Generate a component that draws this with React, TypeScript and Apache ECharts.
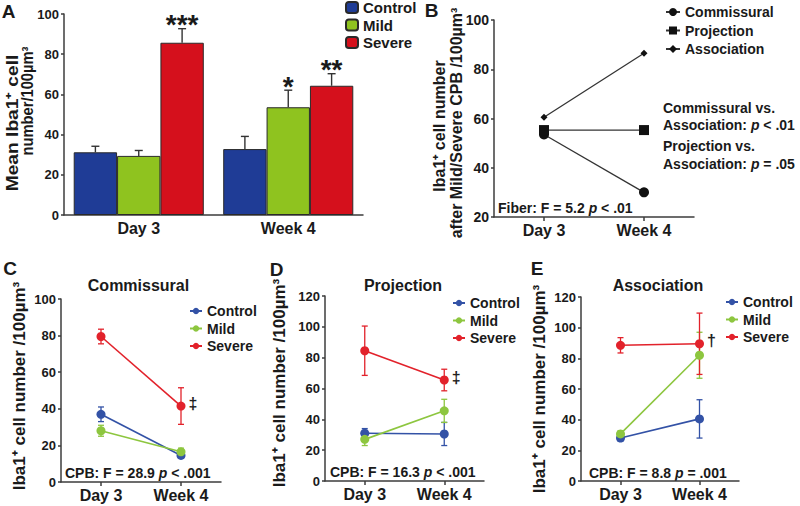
import React, { useEffect, useRef } from "react";
import * as echarts from "echarts";

const FONT = '"Liberation Sans", Arial, Helvetica, sans-serif';

const days = ["Day 3", "Week 4"];
const groups = ["Control", "Mild", "Severe"];
const fibers = ["Commissural", "Projection", "Association"];

// Panel A: mean Iba1+ cells (bars) with SEM
const aControl = [31.2, 32.8];
const aMild = [29.4, 53.6];
const aSevere = [85.7, 64.3];
const aControlErr = [3.0, 6.3];
const aMildErr = [2.7, 8.5];
const aSevereErr = [7.0, 6.0];
const aControlSig = ["", ""];
const aMildSig = ["", "*"];
const aSevereSig = ["***", "**"];

// Panel B: after Mild/Severe CPB by fiber type
const bCommissural = [53.5, 30.0];
const bProjection = [55.3, 55.3];
const bAssociation = [60.5, 86.5];

// Panel C: Commissural
const cControl = [37.0, 14.5];
const cMild = [28.0, 16.5];
const cSevere = [79.5, 41.5];
const cControlErr = [4.0, 1.5];
const cMildErr = [3.0, 2.0];
const cSevereErr = [4.0, 10.0];
const cMark = ["", "‡"];

// Panel D: Projection
const dControl = [31.0, 30.5];
const dMild = [27.0, 45.5];
const dSevere = [84.5, 65.5];
const dControlErr = [3.0, 7.5];
const dMildErr = [4.0, 7.5];
const dSevereErr = [16.0, 7.0];
const dMark = ["", "‡"];

// Panel E: Association
const eControl = [28.0, 40.5];
const eMild = [30.7, 82.0];
const eSevere = [88.5, 89.5];
const eControlErr = [2.0, 12.5];
const eMildErr = [2.0, 15.0];
const eSevereErr = [5.0, 20.0];
const eMark = ["", "†"];

const barColors = ["#1f3c96", "#8fc31f", "#d5101c"];
const lineColors = ["#3352a6", "#8dc63f", "#e2222b"];
const INK = "#1a1a1a";
const AXIS = "#3c3c3c";

export default function App() {
  const ref = useRef<HTMLDivElement>(null);

  useEffect(() => {
    document.body.style.margin = "0";
    const chart = echarts.init(ref.current!, null, { renderer: "svg" });

    const grids = [
      { left: 64, top: 14, width: 299, height: 201 },
      { left: 494, top: 20, width: 200, height: 197 },
      { left: 61, top: 299, width: 160, height: 183 },
      { left: 325, top: 296, width: 159, height: 185 },
      { left: 581, top: 297, width: 158, height: 184 },
    ];
    const yRanges = [
      [0, 100],
      [20, 100],
      [0, 100],
      [0, 120],
      [0, 120],
    ];

    const xAxis = grids.map((_, i) => ({
      type: "category",
      gridIndex: i,
      data: days,
      boundaryGap: true,
      axisLine: { lineStyle: { color: AXIS, width: 1.5 } },
      axisTick: {
        show: i > 0,
        alignWithLabel: true,
        length: 4,
        lineStyle: { color: AXIS, width: 1.5 },
      },
      axisLabel: {
        fontSize: 16,
        fontWeight: "bold",
        color: INK,
        fontFamily: FONT,
        margin: 5,
      },
    }));

    const yAxis = grids.map((_, i) => ({
      type: "value",
      gridIndex: i,
      min: yRanges[i][0],
      max: yRanges[i][1],
      interval: 20,
      axisLine: { show: true, lineStyle: { color: AXIS, width: 1.5 } },
      axisTick: { show: true, length: 3, lineStyle: { color: AXIS, width: 1.5 } },
      splitLine: { show: false },
      axisLabel: {
        fontSize: i === 1 ? 14 : 13,
        fontWeight: "bold",
        color: INK,
        fontFamily: FONT,
        margin: 5,
      },
    }));

    const aMeans = [aControl, aMild, aSevere];
    const aErrs = [aControlErr, aMildErr, aSevereErr];
    const aSigs = [aControlSig, aMildSig, aSevereSig];
    const CAT_GAP = 0.13;

    const series: any[] = [];

    groups.forEach((g, gi) => {
      series.push({
        type: "bar",
        name: g,
        xAxisIndex: 0,
        yAxisIndex: 0,
        data: aMeans[gi],
        barGap: "0%",
        barCategoryGap: CAT_GAP * 100 + "%",
        itemStyle: { color: barColors[gi], borderColor: "#2a2a2a", borderWidth: 1 },
        emphasis: { disabled: true },
      });
    });

    const aErrData: number[][] = [];
    groups.forEach((_, gi) => {
      days.forEach((_, di) => {
        aErrData.push([di, aMeans[gi][di], aErrs[gi][di], gi]);
      });
    });
    series.push({
      type: "custom",
      name: "A-err",
      xAxisIndex: 0,
      yAxisIndex: 0,
      z: 3,
      data: aErrData,
      renderItem: (params: any, api: any) => {
        const xi = api.value(0);
        const m = api.value(1);
        const e = api.value(2);
        const g = api.value(3);
        const p0 = api.coord([xi, m]);
        const p1 = api.coord([xi, m + e]);
        const band = api.size([1, 0])[0];
        const w = (band * (1 - CAT_GAP)) / 3;
        const cx = p0[0] + (g - 1) * w;
        const cap = 4;
        const st = { stroke: "#333", lineWidth: 1.4 };
        return {
          type: "group",
          children: [
            { type: "line", shape: { x1: cx, y1: p0[1], x2: cx, y2: p1[1] }, style: st },
            { type: "line", shape: { x1: cx - cap, y1: p1[1], x2: cx + cap, y2: p1[1] }, style: st },
            {
              type: "text",
              x: cx,
              y: p1[1] - 4,
              style: {
                text: aSigs[g][xi],
                fill: INK,
                font: `bold 28px ${FONT}`,
                align: "center",
                verticalAlign: "middle",
                textAlign: "center",
                textVerticalAlign: "middle",
              },
            },
          ],
        };
      },
    });

    // Panel B
    const bData = [bCommissural, bProjection, bAssociation];
    const bSymbols = ["circle", "rect", "diamond"];
    const bSizes = [10, 10, 7];
    fibers.forEach((f, fi) => {
      series.push({
        type: "line",
        name: f,
        xAxisIndex: 1,
        yAxisIndex: 1,
        data: bData[fi],
        symbol: bSymbols[fi],
        symbolSize: bSizes[fi],
        itemStyle: { color: "#111" },
        lineStyle: { color: "#333", width: 1.3 },
        emphasis: { disabled: true },
      });
    });

    // Panels C, D, E
    const panels = [
      { p: "C", idx: 2, means: [cControl, cMild, cSevere], errs: [cControlErr, cMildErr, cSevereErr], mark: cMark },
      { p: "D", idx: 3, means: [dControl, dMild, dSevere], errs: [dControlErr, dMildErr, dSevereErr], mark: dMark },
      { p: "E", idx: 4, means: [eControl, eMild, eSevere], errs: [eControlErr, eMildErr, eSevereErr], mark: eMark },
    ];

    panels.forEach((pn) => {
      const errData: number[][] = [];
      groups.forEach((_, gi) => {
        days.forEach((_, di) => {
          errData.push([di, pn.means[gi][di], pn.errs[gi][di], gi]);
        });
      });
      series.push({
        type: "custom",
        name: pn.p + "-err",
        xAxisIndex: pn.idx,
        yAxisIndex: pn.idx,
        z: 1,
        data: errData,
        renderItem: (params: any, api: any) => {
          const xi = api.value(0);
          const m = api.value(1);
          const e = api.value(2);
          const g = api.value(3);
          const lo = api.coord([xi, m - e]);
          const hi = api.coord([xi, m + e]);
          const cx = lo[0];
          const cap = 3;
          const st = { stroke: lineColors[g], lineWidth: 1.3 };
          return {
            type: "group",
            children: [
              { type: "line", shape: { x1: cx, y1: lo[1], x2: cx, y2: hi[1] }, style: st },
              { type: "line", shape: { x1: cx - cap, y1: lo[1], x2: cx + cap, y2: lo[1] }, style: st },
              { type: "line", shape: { x1: cx - cap, y1: hi[1], x2: cx + cap, y2: hi[1] }, style: st },
            ],
          };
        },
      });
      groups.forEach((g, gi) => {
        const s: any = {
          type: "line",
          name: pn.p + "|" + g,
          xAxisIndex: pn.idx,
          yAxisIndex: pn.idx,
          z: 3,
          data: pn.means[gi],
          symbol: "circle",
          symbolSize: 9,
          itemStyle: { color: lineColors[gi] },
          lineStyle: { color: lineColors[gi], width: 1.6 },
          emphasis: { disabled: true },
        };
        if (gi === 2) {
          s.label = {
            show: true,
            position: "right",
            distance: 3,
            offset: [0, -3],
            formatter: (p: any) => pn.mark[p.dataIndex],
            fontSize: 16,
            fontWeight: "bold",
            color: "#222",
            fontFamily: FONT,
          };
        }
        series.push(s);
      });
    });

    const legendText = { fontSize: 14, fontWeight: "bold", color: INK, fontFamily: FONT, lineHeight: 14 };
    const legend = [
      {
        orient: "vertical",
        left: 345,
        top: 0,
        padding: 0,
        itemWidth: 12,
        itemHeight: 11,
        itemGap: 2.5,
        selectedMode: false,
        data: groups,
        textStyle: { ...legendText, fontSize: 15, lineHeight: 15 },
      },
      {
        orient: "vertical",
        left: 665,
        top: 5,
        padding: 0,
        itemWidth: 14,
        itemHeight: 10,
        itemGap: 4.5,
        selectedMode: false,
        data: fibers,
        textStyle: legendText,
      },
      ...[
        { p: "C", left: 189, top: 304 },
        { p: "D", left: 452, top: 296 },
        { p: "E", left: 725, top: 295 },
      ].map((l) => ({
        orient: "vertical",
        left: l.left,
        top: l.top,
        padding: 0,
        itemWidth: 12,
        itemHeight: 8,
        itemGap: 3.5,
        selectedMode: false,
        data: groups.map((g) => l.p + "|" + g),
        formatter: (name: string) => name.split("|")[1],
        textStyle: legendText,
      })),
    ];

    const txt = (text: string, x: number, y: number, size: number, extra: any = {}) => ({
      type: "text",
      x,
      y,
      silent: true,
      ...extra,
      style: {
        text,
        fill: INK,
        font: `bold ${size}px ${FONT}`,
        align: extra.align || "center",
        verticalAlign: "middle",
        textAlign: extra.align || "center",
        textVerticalAlign: "middle",
      },
    });
    const richTxt = (text: string, x: number, y: number, size: number) => ({
      type: "text",
      x,
      y,
      silent: true,
      style: {
        text,
        fill: INK,
        font: `bold ${size}px ${FONT}`,
        align: "left",
        verticalAlign: "middle",
        textAlign: "left",
        textVerticalAlign: "middle",
        rich: {
          n: { fontSize: size, fontWeight: "bold", fontFamily: FONT, fill: INK },
          i: { fontSize: size, fontWeight: "bold", fontStyle: "italic", fontFamily: FONT, fill: INK },
        },
      },
    });
    const vTxt = (text: string, x: number, y: number, size: number, sx = 1) => ({
      type: "text",
      x,
      y,
      rotation: Math.PI / 2,
      scaleX: sx,
      silent: true,
      style: {
        text,
        fill: INK,
        font: `bold ${size}px ${FONT}`,
        align: "center",
        verticalAlign: "middle",
        textAlign: "center",
        textVerticalAlign: "middle",
      },
    });

    const graphic = [
      // panel letters
      txt("A", 8.5, 11, 19),
      txt("B", 431.5, 10, 19),
      txt("C", 10, 268, 19),
      txt("D", 276.5, 269, 19),
      txt("E", 537, 268, 19),
      // y axis names
      vTxt("Mean Iba1⁺ cell", 13, 123, 16, 1.2),
      vTxt("number/100µm³", 27, 101, 16, 0.92),
      vTxt("Iba1⁺ cell number", 439, 126, 16),
      vTxt("after Mild/Severe CPB /100µm³", 456.5, 123, 16),
      vTxt("Iba1⁺ cell number /100µm³", 19.5, 386, 17),
      vTxt("Iba1⁺ cell number /100µm³", 279, 383, 17),
      vTxt("Iba1⁺ cell number /100µm³", 539.5, 389, 17),
      // panel titles
      txt("Commissural", 138.5, 285, 16),
      txt("Projection", 403, 285, 16),
      txt("Association", 658, 285, 16),
      // annotations
      txt("Commissural vs.", 663, 107.5, 14, { align: "left" }),
      richTxt("{n|Association: }{i|p}{n| < .01}", 663, 124.5, 14),
      txt("Projection vs.", 663, 146, 14, { align: "left" }),
      richTxt("{n|Association: }{i|p}{n| = .05}", 663, 164, 14),
      richTxt("{n|Fiber: F = 5.2 }{i|p}{n| < .01}", 498, 208, 14),
      richTxt("{n|CPB: F = 28.9 }{i|p}{n| < .001}", 65, 472.5, 14),
      richTxt("{n|CPB: F = 16.3 }{i|p}{n| < .001}", 330, 472, 14),
      richTxt("{n|CPB: F = 8.8 }{i|p}{n| = .001}", 589, 472.5, 14),
    ];

    chart.setOption({
      animation: false,
      textStyle: { fontFamily: FONT },
      grid: grids,
      xAxis,
      yAxis,
      legend,
      series,
      graphic,
    });

    return () => chart.dispose();
  }, []);

  return <div ref={ref} style={{ width: 800, height: 506 }} />;
}
